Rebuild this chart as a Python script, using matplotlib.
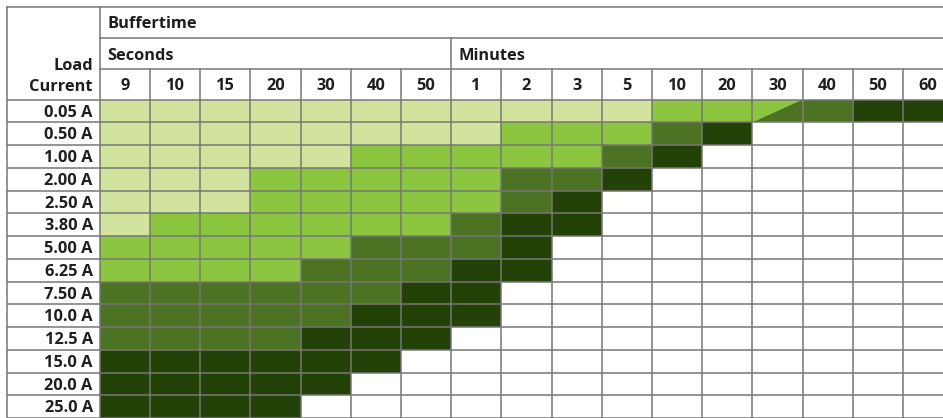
import matplotlib
matplotlib.use("Agg")
import matplotlib.pyplot as plt
from matplotlib.patches import Rectangle, Polygon

# ---------------- data ----------------
group_top = "Buffertime"
groups = ["Seconds", "Minutes"]
group_sizes = [7, 10]
col_labels = ["9", "10", "15", "20", "30", "40", "50",
              "1", "2", "3", "5", "10", "20", "30", "40", "50", "60"]
row_labels = ["0.05 A", "0.50 A", "1.00 A", "2.00 A", "2.50 A", "3.80 A",
              "5.00 A", "6.25 A", "7.50 A", "10.0 A", "12.5 A", "15.0 A",
              "20.0 A", "25.0 A"]
# 0 = not possible, 1..4 = increasingly dark green
levels = [
    [1, 1, 1, 1, 1, 1, 1, 1, 1, 1, 1, 2, 2, 2, 3, 4, 4],
    [1, 1, 1, 1, 1, 1, 1, 1, 2, 2, 2, 3, 4, 0, 0, 0, 0],
    [1, 1, 1, 1, 1, 2, 2, 2, 2, 2, 3, 4, 0, 0, 0, 0, 0],
    [1, 1, 1, 2, 2, 2, 2, 2, 3, 3, 4, 0, 0, 0, 0, 0, 0],
    [1, 1, 1, 2, 2, 2, 2, 2, 3, 4, 0, 0, 0, 0, 0, 0, 0],
    [1, 2, 2, 2, 2, 2, 2, 3, 4, 4, 0, 0, 0, 0, 0, 0, 0],
    [2, 2, 2, 2, 2, 3, 3, 3, 4, 0, 0, 0, 0, 0, 0, 0, 0],
    [2, 2, 2, 2, 3, 3, 3, 4, 4, 0, 0, 0, 0, 0, 0, 0, 0],
    [3, 3, 3, 3, 3, 3, 4, 4, 0, 0, 0, 0, 0, 0, 0, 0, 0],
    [3, 3, 3, 3, 3, 4, 4, 4, 0, 0, 0, 0, 0, 0, 0, 0, 0],
    [3, 3, 3, 3, 4, 4, 4, 0, 0, 0, 0, 0, 0, 0, 0, 0, 0],
    [4, 4, 4, 4, 4, 4, 0, 0, 0, 0, 0, 0, 0, 0, 0, 0, 0],
    [4, 4, 4, 4, 4, 0, 0, 0, 0, 0, 0, 0, 0, 0, 0, 0, 0],
    [4, 4, 4, 4, 0, 0, 0, 0, 0, 0, 0, 0, 0, 0, 0, 0, 0],
]
# cells split diagonally: (row, col) -> (upper-left level, lower-right level)
split_cells = {(0, 13): (2, 3)}

palette = {0: "#ffffff", 1: "#d1e39c", 2: "#8cc53f", 3: "#4c7223", 4: "#224207"}

# ---------------- layout (pixels) ----------------
W, H = 943, 418
left = 7.0
top = 7.0
x0 = 99.7
cw = 50.2
hdr = [7.0, 38.0, 69.0, 99.7]
y0 = 99.7
rh = 22.75
grid_c = "#777777"
lw = 1.1
txt_c = "#1e1e1e"
font = ["Open Sans", "DejaVu Sans"]
fs = 11.8

fig = plt.figure(figsize=(W / 100, H / 100), dpi=100)
ax = fig.add_axes([0, 0, 1, 1])
ax.set_xlim(0, W)
ax.set_ylim(H, 0)
ax.axis("off")

ncol = len(col_labels)
nrow = len(row_labels)
xr = x0 + ncol * cw
yb = y0 + nrow * rh

# cells
for i, row in enumerate(levels):
    for j, v in enumerate(row):
        cx, cy = x0 + j * cw, y0 + i * rh
        if (i, j) in split_cells:
            a, b = split_cells[(i, j)]
            ax.add_patch(Rectangle((cx, cy), cw, rh, facecolor=palette[a], edgecolor="none", zorder=1))
            ax.add_patch(Polygon([(cx, cy + rh), (cx + cw, cy), (cx + cw, cy + rh)],
                                 closed=True, facecolor=palette[b], edgecolor="none", zorder=1))
        else:
            ax.add_patch(Rectangle((cx, cy), cw, rh, facecolor=palette[v], edgecolor="none", zorder=1))

# grid lines - data area
for i in range(nrow + 1):
    y = y0 + i * rh
    ax.plot([left, xr], [y, y], color=grid_c, lw=lw, zorder=3, solid_capstyle="butt")
for j in range(ncol + 1):
    x = x0 + j * cw
    ax.plot([x, x], [hdr[2], yb], color=grid_c, lw=lw, zorder=3, solid_capstyle="butt")
ax.plot([left, left], [top, yb], color=grid_c, lw=lw, zorder=3)
# header lines
ax.plot([left, xr], [hdr[0], hdr[0]], color=grid_c, lw=lw, zorder=3)
ax.plot([x0, xr], [hdr[1], hdr[1]], color=grid_c, lw=lw, zorder=3)
ax.plot([x0, xr], [hdr[2], hdr[2]], color=grid_c, lw=lw, zorder=3)
ax.plot([x0, x0], [hdr[0], hdr[2]], color=grid_c, lw=lw, zorder=3)
# group separators
acc = 0
for s in group_sizes[:-1]:
    acc += s
    ax.plot([x0 + acc * cw] * 2, [hdr[1], hdr[2]], color=grid_c, lw=lw, zorder=3)

tkw = dict(family=font, fontsize=fs, fontweight="bold", color=txt_c, zorder=4)

ax.text(x0 + 7.5, 28.5, group_top, ha="left", va="baseline", **tkw)
acc = 0
for g, s in zip(groups, group_sizes):
    ax.text(x0 + acc * cw + 7.5, 59.5, g, ha="left", va="baseline", **tkw)
    acc += s
for j, lab in enumerate(col_labels):
    ax.text(x0 + (j + 0.5) * cw, 90.5, lab, ha="center", va="baseline", **tkw)
ax.text(x0 - 7, 70, "Load", ha="right", va="baseline", **tkw)
ax.text(x0 - 7, 91, "Current", ha="right", va="baseline", **tkw)
for i, lab in enumerate(row_labels):
    ax.text(x0 - 7, y0 + (i + 0.5) * rh + 5.5, lab, ha="right", va="baseline", **tkw)

fig.savefig("out.png", dpi=100)
